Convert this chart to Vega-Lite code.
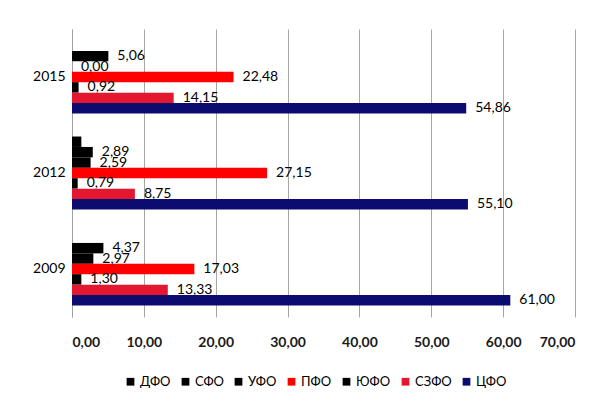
{
  "$schema": "https://vega.github.io/schema/vega-lite/v6.json",
  "width": 503,
  "height": 288,
  "autosize": {"type": "none"},
  "padding": {"left": 72, "top": 29, "right": 33, "bottom": 86},
  "background": "white",
  "config": {
    "locale": {"number": {"decimal": ",", "thousands": " ", "grouping": [3], "currency": ["", ""]}},
    "view": {"stroke": null},
    "font": "Lato"
  },
  "data": {
    "values": [
      {"year": "2015", "region": "СФО", "value": 5.06},
      {"year": "2015", "region": "УФО", "value": 0.0},
      {"year": "2015", "region": "ПФО", "value": 22.48},
      {"year": "2015", "region": "ЮФО", "value": 0.92},
      {"year": "2015", "region": "СЗФО", "value": 14.15},
      {"year": "2015", "region": "ЦФО", "value": 54.86},
      {"year": "2012", "region": "ДФО", "value": 1.3},
      {"year": "2012", "region": "СФО", "value": 2.89},
      {"year": "2012", "region": "УФО", "value": 2.59},
      {"year": "2012", "region": "ПФО", "value": 27.15},
      {"year": "2012", "region": "ЮФО", "value": 0.79},
      {"year": "2012", "region": "СЗФО", "value": 8.75},
      {"year": "2012", "region": "ЦФО", "value": 55.1},
      {"year": "2009", "region": "СФО", "value": 4.37},
      {"year": "2009", "region": "УФО", "value": 2.97},
      {"year": "2009", "region": "ПФО", "value": 17.03},
      {"year": "2009", "region": "ЮФО", "value": 1.3},
      {"year": "2009", "region": "СЗФО", "value": 13.33},
      {"year": "2009", "region": "ЦФО", "value": 61.0}
    ]
  },
  "encoding": {
    "y": {
      "field": "year", "type": "nominal", "sort": ["2015", "2012", "2009"],
      "scale": {"paddingInner": 0.24, "paddingOuter": 0.12},
      "axis": {"title": null, "ticks": false, "domainColor": "#A0A0A0", "labelFontSize": 14, "labelColor": "#000000", "labelPadding": 7}
    },
    "yOffset": {
      "field": "region", "type": "nominal",
      "sort": ["ДФО", "СФО", "УФО", "ПФО", "ЮФО", "СЗФО", "ЦФО"],
      "scale": {"paddingInner": 0, "paddingOuter": 0}
    },
    "x": {
      "field": "value", "type": "quantitative",
      "scale": {"domain": [0, 70], "nice": false},
      "axis": {"title": null, "values": [0, 10, 20, 30, 40, 50, 60, 70], "format": ".2f", "domain": false, "ticks": false, "gridColor": "#A6A6A6", "labelFontSize": 14, "labelFontWeight": "bold", "labelColor": "#1a1a1a", "labelPadding": 18}
    }
  },
  "layer": [
    {
      "mark": {"type": "bar"},
      "encoding": {
        "color": {
          "field": "region", "type": "nominal",
          "scale": {
            "domain": ["ДФО", "СФО", "УФО", "ПФО", "ЮФО", "СЗФО", "ЦФО"],
            "range": ["#000000", "#000000", "#000000", "#FF0000", "#000000", "#E3172F", "#0C0C6E"]
          },
          "legend": {
            "title": null, "orient": "none", "direction": "horizontal",
            "legendX": 52, "legendY": 346,
            "symbolType": "square", "symbolSize": 60, "symbolStrokeWidth": 0,
            "labelFontSize": 13, "labelColor": "#000000", "labelOffset": 3, "columnPadding": 8
          }
        }
      }
    },
    {
      "transform": [{"filter": "datum.region != 'ДФО'"}],
      "mark": {"type": "text", "align": "left", "baseline": "middle", "dx": 9, "fontSize": 14, "color": "#000000"},
      "encoding": {"text": {"field": "value", "type": "quantitative", "format": ".2f"}}
    }
  ]
}
